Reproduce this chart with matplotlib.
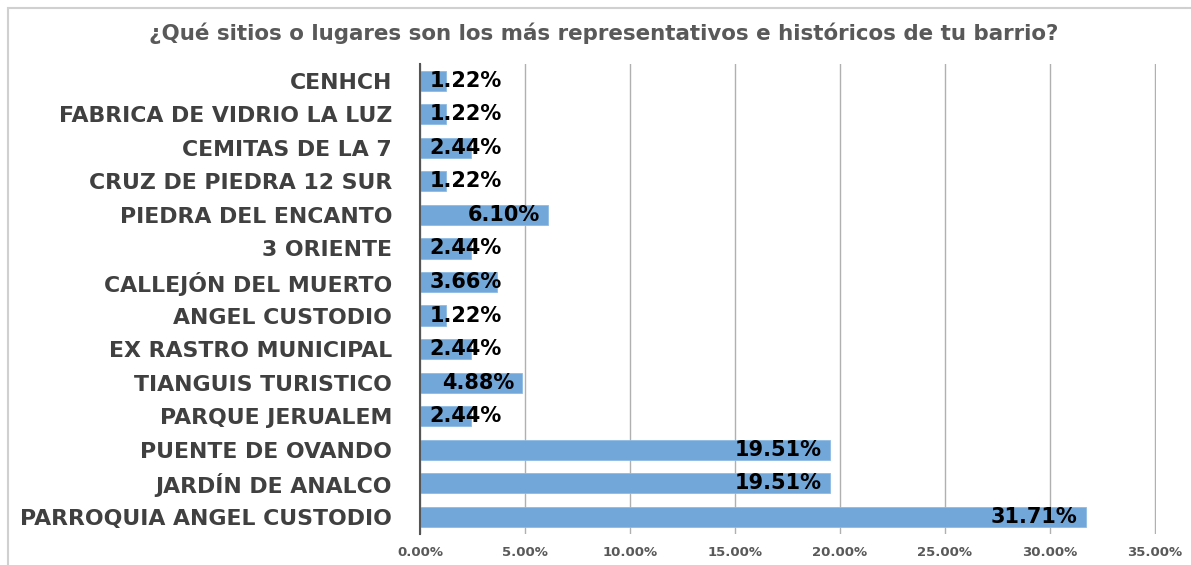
import matplotlib
matplotlib.use("Agg")
import matplotlib.pyplot as plt
from matplotlib.patches import Rectangle
from matplotlib.ticker import FuncFormatter, MultipleLocator

title = "¿Qué sitios o lugares son los más representativos e históricos de tu barrio?"
categories = [
    "CENHCH",
    "FABRICA DE VIDRIO LA LUZ",
    "CEMITAS DE LA 7",
    "CRUZ DE PIEDRA 12 SUR",
    "PIEDRA DEL ENCANTO",
    "3 ORIENTE",
    "CALLEJÓN DEL MUERTO",
    "ANGEL CUSTODIO",
    "EX RASTRO MUNICIPAL",
    "TIANGUIS TURISTICO",
    "PARQUE JERUALEM",
    "PUENTE DE OVANDO",
    "JARDÍN DE ANALCO",
    "PARROQUIA ANGEL CUSTODIO",
]
values = [1.22, 1.22, 2.44, 1.22, 6.10, 2.44, 3.66, 1.22, 2.44, 4.88, 2.44, 19.51, 19.51, 31.71]

FONT = ["DejaVu Sans"]
plt.rcParams["font.family"] = FONT

fig = plt.figure(figsize=(11.91, 5.65), dpi=100)
ax = fig.add_axes([420 / 1191, 1 - 533.5 / 565, 736 / 1191, 469.5 / 565])

n = len(categories)
ypos = list(range(n))
ax.barh(ypos, values, height=0.6, color="#72a7da", edgecolor="#8fbbe4", linewidth=0.6, zorder=2)
ax.set_ylim(n - 0.5, -0.5)
ax.set_xlim(0, 35.05)
ax.xaxis.set_major_locator(MultipleLocator(5))
ax.xaxis.set_major_formatter(FuncFormatter(lambda v, p: f"{v:.2f}%"))
ax.set_yticks(ypos)
ax.set_yticklabels(categories, fontsize=15.8, fontweight="bold", color="#404040")
ax.tick_params(axis="y", length=0, pad=20)
ax.tick_params(axis="x", length=0, pad=9, labelsize=9.5, labelcolor="#595959")
for lab in ax.get_xticklabels():
    lab.set_fontweight("bold")
ax.grid(axis="x", color="#b0b0b0", linewidth=1.0, zorder=0)
ax.set_axisbelow(True)
for s in ["top", "right", "bottom"]:
    ax.spines[s].set_visible(False)
ax.spines["left"].set_color("#555555")
ax.spines["left"].set_linewidth(1.5)
ax.spines["left"].set_zorder(3)

for y, v in zip(ypos, values):
    txt = f"{v:.2f}%"
    if v < 4.0:
        ax.text(0.45, y, txt, ha="left", va="center", fontsize=15, fontweight="bold", color="black", zorder=4)
    else:
        ax.text(v - 0.4, y, txt, ha="right", va="center", fontsize=15, fontweight="bold", color="black", zorder=4)

fig.text(604 / 1191, 1 - 33 / 565, title, ha="center", va="center", fontsize=15.4,
         fontweight="bold", color="#595959")

fig.patches.append(Rectangle((8 / 1191, -0.1), 1.2, 1.1 - 8 / 565 + 0.0, transform=fig.transFigure,
                             fill=False, edgecolor="#d0d0d0", linewidth=1.5, zorder=0))

fig.savefig("out.png", dpi=100, facecolor="white")
